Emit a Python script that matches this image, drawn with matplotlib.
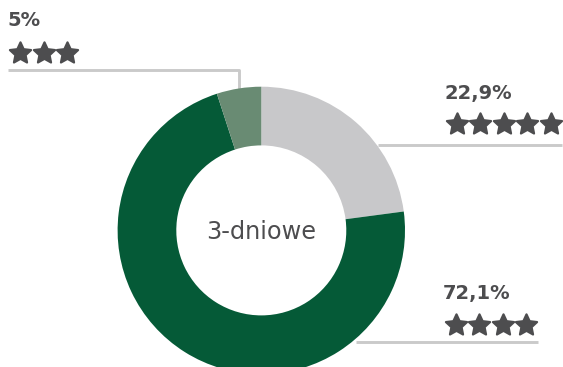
import numpy as np
import matplotlib.pyplot as plt
from matplotlib.path import Path

# trip length share, clockwise from the top
shares = [22.9, 72.1, 5.0]
star_counts = [5, 4, 3]
colors = ["#c8c8ca", "#055a37", "#698b73"]
center_label = "3-dniowe"

W, H = 563, 367
TEXT = "#4d4d4f"
LINE = "#cacaca"


def star_path(inner=0.48):
    # five-point star, a bit fatter than matplotlib's default '*'
    ang = np.pi / 2 + np.arange(10) * np.pi / 5
    rad = np.where(np.arange(10) % 2 == 0, 1.0, inner)
    verts = np.column_stack([rad * np.cos(ang), rad * np.sin(ang)])
    verts = np.vstack([verts, verts[:1]])
    codes = [Path.MOVETO] + [Path.LINETO] * 9 + [Path.CLOSEPOLY]
    return Path(verts, codes)


STAR = star_path()

fig = plt.figure(figsize=(W / 100, H / 100), dpi=100)
ax = fig.add_axes([0, 0, 1, 1])

cx, cy, r_out, r_in = 261.3, H - 230.4, 143.7, 85.0
ax.pie(shares, colors=colors, startangle=90, counterclock=False,
       center=(cx, cy), radius=r_out,
       wedgeprops=dict(width=r_out - r_in, linewidth=0))
ax.text(cx, cy - 2, center_label, ha="center", va="center",
        fontsize=17.3, color=TEXT)


def py(y):
    # pixel row -> data y
    return H - y


# label blocks: (text x, text top, star row y, first star x, leader line points)
blocks = [
    (445, 88, 124, 456.5, [(378, 145), (562, 145)]),
    (444, 287, 325, 455.5, [(356, 341.7), (538, 341.7)]),
    (8, 14, 53, 20, [(8, 70), (239, 70), (239, 95)]),
]

for share, n, (tx, ttop, sy, sx, pts) in zip(shares, star_counts, blocks):
    label = f"{share:g}".replace(".", ",") + "%"
    ax.text(tx - 1, py(ttop - 3.5), label, ha="left", va="top",
            fontsize=14, fontweight="bold", color=TEXT)
    xs = [sx + 23.5 * i for i in range(n)]
    ax.plot(xs, [py(sy)] * n, linestyle="none", marker=STAR, markersize=16,
            color=TEXT, markeredgecolor=TEXT, markeredgewidth=1.6,
            solid_joinstyle="round")
    ax.plot([p[0] for p in pts], [py(p[1]) for p in pts], color=LINE,
            linewidth=2.1, zorder=0.5, solid_capstyle="butt")

ax.set_xlim(0, W)
ax.set_ylim(0, H)
ax.set_aspect("auto")
ax.axis("off")

fig.savefig("out.png", dpi=100)
